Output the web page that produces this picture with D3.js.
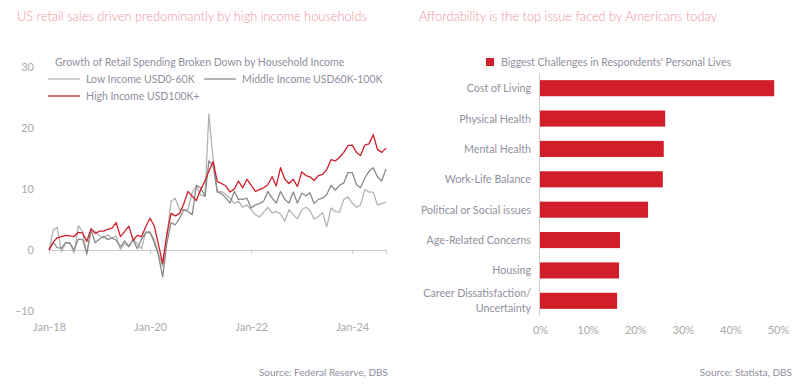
<!DOCTYPE html>
<html>
<head>
<meta charset="utf-8">
<script src="https://cdn.jsdelivr.net/npm/d3@7"></script>
<style>
  html, body { margin: 0; padding: 0; background: #ffffff; }
  svg { display: block; font-family: "Lato", "Open Sans", sans-serif; }
</style>
</head>
<body>
<svg id="chart" width="811" height="390"></svg>
<script>
// ---------- Left chart data ----------
const leftTitle = "US retail sales driven predominantly by high income households";
const leftLegendTitle = "Growth of Retail Spending Broken Down by Household Income";
const seriesNames = ["Low Income USD0-60K", "Middle Income USD60K-100K", "High Income USD100K+"];
const startMonth = "2018-01";
const lowIncome = [
  0, 3.3, 3.7, -0.3, 1.2, 1.2, -0.5, 4.0, 3.0, -0.8, 3.3, 3.0,
  2.3, 2.0, 2.5, 2.0, 2.3, 0.1, 1.1, 0.5, 1.8, 1.0, 0.2, 3.0,
  3.0, 1.7, -0.5, -2.7, 2.0, 8.0, 8.5, 6.6, 6.6, 6.6, 9.4, 10.5,
  9.0, 8.8, 22.3, 14.9, 9.4, 9.6, 9.1, 8.5, 7.6, 8.0, 7.0, 7.4,
  6.6, 5.8, 5.4, 6.2, 7.0, 6.1, 6.3, 5.9, 4.7, 6.6, 5.8, 5.1,
  6.6, 7.0, 6.5, 5.1, 5.5, 6.1, 3.8, 6.9, 6.3, 6.2, 8.3, 8.7,
  7.7, 7.0, 7.4, 9.9, 9.5, 9.5, 7.4, 7.6, 7.8
];
const middleIncome = [
  0, 1.2, 0.4, 0.3, 1.2, 1.1, 0.0, 1.8, 1.7, -0.5, 3.3, 1.2,
  1.8, 2.2, 1.7, 2.0, 1.6, 0.5, 1.5, 0.6, 1.7, 0.2, 1.8, 2.8,
  2.9, 1.2, -0.8, -4.4, 1.0, 4.5, 4.1, 5.2, 6.6, 6.3, 5.8, 10.6,
  10.2, 8.8, 14.6, 13.8, 9.6, 9.2, 8.6, 7.7, 9.6, 8.3, 8.3, 8.5,
  6.9, 7.4, 7.6, 8.0, 9.6, 8.5, 7.7, 9.6, 8.3, 7.7, 9.5, 7.7,
  9.3, 8.9, 9.4, 7.6, 8.3, 8.5, 9.1, 10.6, 9.8, 10.6, 11.0, 12.7,
  12.7, 10.7, 10.2, 11.8, 12.9, 13.5, 12.0, 11.3, 13.3
];
const highIncome = [
  0, 1.3, 2.0, 2.2, 2.4, 2.3, 2.2, 2.9, 2.8, 1.4, 3.5, 2.7,
  3.1, 3.1, 3.4, 3.6, 4.5, 2.2, 3.0, 3.9, 1.6, 2.4, 2.2, 3.8,
  5.2, 3.9, 1.0, -2.2, 2.5, 6.0, 5.6, 6.0, 7.6, 9.6, 8.8, 8.1,
  9.9, 11.3, 12.9, 14.5, 11.2, 10.9, 10.5, 9.5, 10.0, 11.3, 10.2, 11.6,
  10.6, 9.6, 9.9, 10.2, 10.7, 12.0, 10.5, 13.5, 11.6, 10.9, 11.6, 10.4,
  12.8, 12.2, 12.0, 11.4, 12.2, 12.4, 13.2, 14.8, 14.6, 15.2, 16.0, 17.1,
  17.2, 16.0, 15.5, 17.2, 17.4, 18.9, 16.5, 16.0, 16.7
];
const leftYTicks = [-10, 0, 10, 20, 30];
const leftXTicks = ["2018-01", "2020-01", "2022-01", "2024-01"];
const leftSource = "Source: Federal Reserve, DBS";

// ---------- Right chart data ----------
const rightTitle = "Affordability is the top issue faced by Americans today";
const rightLegend = "Biggest Challenges in Respondents' Personal Lives";
const challenges = [
  "Cost of Living", "Physical Health", "Mental Health", "Work-Life Balance",
  "Political or Social issues", "Age-Related Concerns", "Housing",
  "Career Dissatisfaction/\nUncertainty"
];
const shares = [0.492, 0.263, 0.260, 0.258, 0.227, 0.168, 0.166, 0.162];
const rightXTicks = [0, 0.1, 0.2, 0.3, 0.4, 0.5];
const rightSource = "Source: Statista, DBS";

// ---------- Styles ----------
const RED = "#d01f2b";
const LIGHT_GRAY = "#b3b3b3";
const DARK_GRAY = "#8a8a8a";
const TITLE_COLOR = "#ec939b";
const TEXT_COLOR = "#8f8f9e";
const TICK_COLOR = "#a9a9a9";

const svg = d3.select("#chart");

// ================= LEFT CHART =================
const parseMonth = d3.timeParse("%Y-%m");
const t0 = parseMonth(startMonth);
const dates = lowIncome.map((_, i) => d3.timeMonth.offset(t0, i));

const x = d3.scaleTime().domain([t0, dates[dates.length - 1]]).range([49, 386]);
const y = d3.scaleLinear().domain([-10, 30]).range([311, 67]);

svg.append("text").attr("x", 17).attr("y", 21)
  .attr("fill", TITLE_COLOR).attr("font-size", 12.8).attr("font-weight", 300)
  .text(leftTitle);

// y axis labels
const yAxis = svg.append("g").attr("transform", "translate(37,0)")
  .call(d3.axisLeft(y).tickValues(leftYTicks).tickSize(0).tickPadding(3).tickFormat(d3.format("d")));
yAxis.select(".domain").remove();
yAxis.selectAll("text").attr("fill", TICK_COLOR).attr("font-size", 11).attr("font-family", "Lato, sans-serif");

// zero axis with ticks
const xAxis = svg.append("g").attr("transform", `translate(0,${y(0)})`)
  .call(d3.axisBottom(x).tickValues(leftXTicks.map(parseMonth)).tickSize(4).tickFormat(d3.timeFormat("%b-%y")));
xAxis.select(".domain").attr("stroke", "#c9c9c9");
xAxis.selectAll(".tick line").attr("stroke", "#c9c9c9");
xAxis.selectAll("text").attr("fill", TICK_COLOR).attr("font-size", 11)
  .attr("font-family", "Lato, sans-serif").attr("y", 327 + 4 - y(0)).attr("dy", 0);

// lines
const line = d3.line().x((d, i) => x(dates[i])).y(d => y(d));
const seriesData = [
  { values: lowIncome, color: LIGHT_GRAY },
  { values: middleIncome, color: DARK_GRAY },
  { values: highIncome, color: RED }
];
seriesData.forEach(s => {
  svg.append("path").datum(s.values)
    .attr("fill", "none").attr("stroke", s.color).attr("stroke-width", 1.3)
    .attr("stroke-linejoin", "round").attr("d", line);
});

// legend
svg.append("text").attr("x", 55).attr("y", 66)
  .attr("fill", TEXT_COLOR).attr("font-size", 10.5).text(leftLegendTitle);
const legendItems = [
  { name: seriesNames[0], color: LIGHT_GRAY, lx: 48, ly: 79 },
  { name: seriesNames[1], color: DARK_GRAY, lx: 204, ly: 79 },
  { name: seriesNames[2], color: RED, lx: 48, ly: 96 }
];
legendItems.forEach(it => {
  svg.append("line").attr("x1", it.lx).attr("x2", it.lx + 32)
    .attr("y1", it.ly).attr("y2", it.ly).attr("stroke", it.color).attr("stroke-width", 1.3);
  svg.append("text").attr("x", it.lx + 38).attr("y", it.ly + 4)
    .attr("fill", TEXT_COLOR).attr("font-size", 10.5).text(it.name);
});

svg.append("text").attr("x", 388).attr("y", 376).attr("text-anchor", "end")
  .attr("fill", TEXT_COLOR).attr("font-size", 10).text(leftSource);

// ================= RIGHT CHART =================
svg.append("text").attr("x", 419).attr("y", 21)
  .attr("fill", TITLE_COLOR).attr("font-size", 12.8).attr("font-weight", 300)
  .text(rightTitle);

const xr = d3.scaleLinear().domain([0, 0.5]).range([540, 778]);
const yr = d3.scaleBand().domain(challenges).range([73, 316]).paddingInner(0.47).paddingOuter(0.235);

svg.selectAll("rect.bar").data(challenges).join("rect").attr("class", "bar")
  .attr("x", xr(0)).attr("y", d => yr(d))
  .attr("width", (d, i) => xr(shares[i]) - xr(0))
  .attr("height", yr.bandwidth()).attr("fill", RED);

// vertical axis line
svg.append("line").attr("x1", 539.5).attr("x2", 539.5).attr("y1", 73).attr("y2", 316)
  .attr("stroke", "#cfcfcf").attr("stroke-width", 1);

// category labels
challenges.forEach(c => {
  const lines = c.split("\n");
  const cy = yr(c) + yr.bandwidth() / 2;
  const t = svg.append("text").attr("x", 531).attr("text-anchor", "end")
    .attr("fill", TEXT_COLOR).attr("font-size", 10.7);
  lines.forEach((ln, k) => {
    t.append("tspan").attr("x", 531)
      .attr("y", cy + 4 + (k - (lines.length - 1) / 2) * 15)
      .text(ln);
  });
});

// x axis labels
const xrAxis = svg.append("g").attr("transform", "translate(0,316)")
  .call(d3.axisBottom(xr).tickValues(rightXTicks).tickSize(0).tickPadding(10).tickFormat(d3.format(".0%")));
xrAxis.select(".domain").remove();
xrAxis.selectAll("text").attr("fill", TICK_COLOR).attr("font-size", 11).attr("font-family", "Lato, sans-serif");

// legend
svg.append("rect").attr("x", 486).attr("y", 58).attr("width", 8).attr("height", 8).attr("fill", RED);
svg.append("text").attr("x", 501).attr("y", 66)
  .attr("fill", TEXT_COLOR).attr("font-size", 10.5).text(rightLegend);

svg.append("text").attr("x", 792).attr("y", 376).attr("text-anchor", "end")
  .attr("fill", TEXT_COLOR).attr("font-size", 10).text(rightSource);
</script>
</body>
</html>
